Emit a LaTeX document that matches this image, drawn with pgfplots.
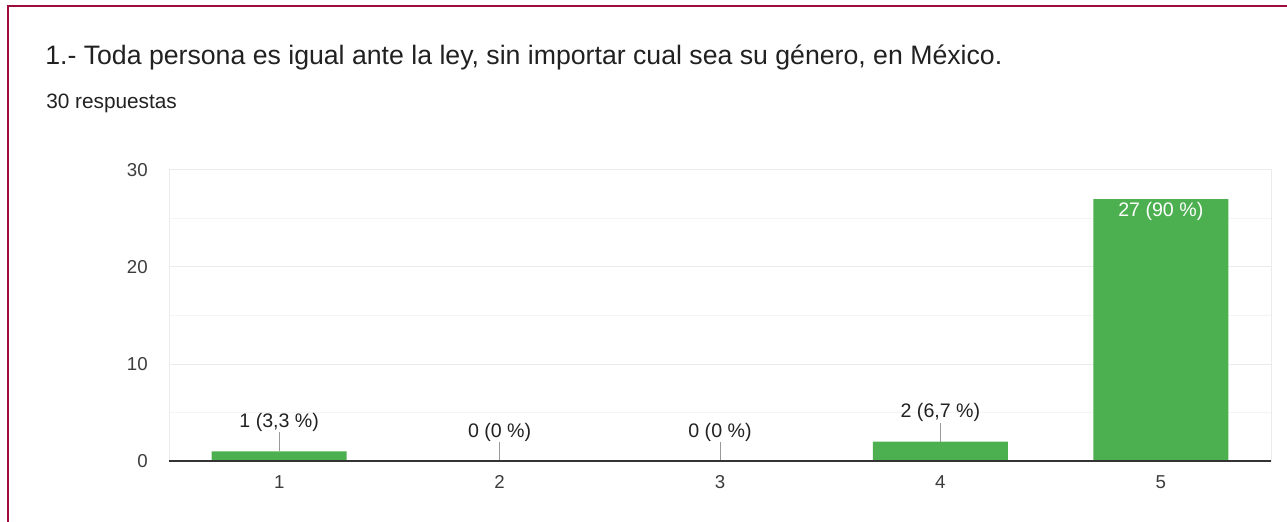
\documentclass[border=0pt]{standalone}
\usepackage{pgfplots}
\pgfplotsset{compat=1.18}
\usepackage{fontspec}
\setmainfont{Liberation Sans}
\definecolor{frame}{HTML}{9E0B3F}
\definecolor{bargreen}{HTML}{4CAF50}
\definecolor{gridmaj}{HTML}{EBEBEB}
\definecolor{gridmin}{HTML}{F4F4F4}
\definecolor{txt}{HTML}{212121}
\definecolor{ticktxt}{HTML}{3C3C3C}
\definecolor{leader}{HTML}{999999}
\definecolor{axisdark}{HTML}{333333}
\begin{document}
\begin{tikzpicture}[x=0.75pt,y=0.75pt]
\path[use as bounding box] (0,0) rectangle (1287,521);
\draw[frame, line width=1.5pt] (7.7,-10) -- (7.7,515.3) -- (1300,515.3);
\node[anchor=base west, inner sep=0pt, font=\fontsize{20}{24}\selectfont, text=txt] at (45,456.5) {1.- Toda persona es igual ante la ley, sin importar cual sea su género, en México.};
\node[anchor=base west, inner sep=0pt, font=\fontsize{15.6}{18}\selectfont, text=txt] at (46,412.7) {30 respuestas};
\begin{axis}[
  at={(126.75pt,45pt)}, anchor=south west,
  scale only axis, width=826.5pt, height=218.25pt,
  xmin=0.5, xmax=5.5, ymin=0, ymax=30,
  xtick={1,2,3,4,5}, ytick={0,10,20,30}, minor ytick={5,15,25},
  ymajorgrids, yminorgrids,
  major grid style={draw=gridmaj, line width=0.75pt},
  minor grid style={draw=gridmin, line width=0.75pt},
  axis line style={draw=gridmaj, line width=0.75pt},
  major tick length=0pt, minor tick length=0pt,
  tick label style={font=\fontsize{14}{16}\selectfont, text=ticktxt, /pgf/number format/assume math mode=true},
  yticklabel style={anchor=east, inner sep=0pt, xshift=-15.75pt},
  xticklabel style={anchor=north, inner sep=0pt, yshift=-10.9pt},
  clip=false,
]
\addplot[ybar, bar width=101.25pt, fill=bargreen, draw=none]
  coordinates {(1,1) (2,0) (3,0) (4,2) (5,27)};
\addplot[draw=none, mark=none,
  error bars/.cd, y dir=plus, y explicit, error mark=none,
  error bar style={draw=leader, solid, line width=0.75pt}]
  coordinates {(1,1) +- (0,1.96) (2,0) +- (0,1.96) (3,0) +- (0,1.96) (4,2) +- (0,1.96)};
\addplot[draw=none, mark=none, point meta=explicit symbolic, nodes near coords,
  every node near coord/.append style={anchor=center, yshift=21.75pt, inner sep=0pt,
    font=\fontsize{14.7}{17}\selectfont, text=txt}]
  coordinates {(1,1) [{1 (3,3 \%)}] (2,0) [{0 (0 \%)}] (3,0) [{0 (0 \%)}] (4,2) [{2 (6,7 \%)}]};
\addplot[draw=none, mark=none, point meta=explicit symbolic, nodes near coords,
  every node near coord/.append style={anchor=center, yshift=-9pt, inner sep=0pt,
    font=\fontsize{14.7}{17}\selectfont, text=white}]
  coordinates {(5,27) [{27 (90 \%)}]};
\draw[axisdark, line width=1.1pt] (rel axis cs:0,0) -- (rel axis cs:1,0);
\end{axis}
\end{tikzpicture}
\end{document}
